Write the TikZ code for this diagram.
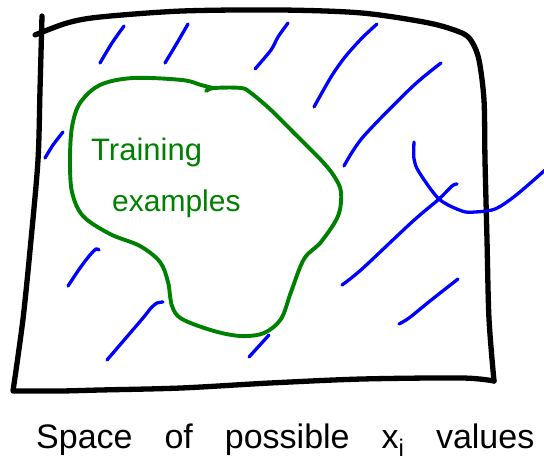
\documentclass[tikz,border=0pt]{standalone}
\usepackage{fontspec}
\setmainfont{Liberation Sans}
\definecolor{penblack}{RGB}{0,0,0}
\definecolor{pengreen}{RGB}{0,128,0}
\definecolor{penblue}{RGB}{0,0,255}
\tikzset{
  boxline/.style={draw=penblack, line width=5.3pt, line cap=round, line join=round},
  blobline/.style={draw=pengreen, line width=3.9pt, line cap=round, line join=round},
  hatch/.style={draw=penblue, line width=3.3pt, line cap=round, line join=round},
  greentext/.style={text=pengreen, inner sep=0pt, anchor=base west},
  labeltext/.style={text=penblack, inner sep=0pt, anchor=base west}
}
\begin{document}
\begin{tikzpicture}[x=1pt, y=-1pt]
\useasboundingbox (0,0) rectangle (544,475);
% box
\draw[boxline] plot[smooth, tension=0.5] coordinates {(42,16) (40,90) (38,160) (31,240) (23,319) (13,391)}
  -- plot[smooth, tension=0.5] coordinates {(13,391) (60,391) (100,390) (181,388) (270,383) (362,379) (462,378) (494,381)};
\draw[boxline] plot[smooth, tension=0.5] coordinates {(35,35) (67,23) (100,17) (182,11) (281,10) (362,13) (429,23) (462,33) (472,42) (479,60) (484,100) (485,160) (487,240) (489,319) (494,381)};
% training blob
\draw[blobline] plot[smooth, tension=0.55] coordinates {(206,91) (214,88) (241,88) (251,93) (271,110) (294,133) (321,160) (334,176) (341,192) (338,216) (321,242) (304,259) (291,292) (281,319) (264,333) (241,336) (214,331) (182,319) (172,306) (168,282) (160,262) (140,246) (110,234) (83,216) (72,192) (70,160) (72,127) (80,103) (100,85) (133,78) (182,80) (201,85) (213,88)};
% hatching
\draw[hatch] plot[smooth] coordinates {(100,63) (112,43) (124,26)};
\draw[hatch] plot[smooth] coordinates {(165,63) (177,43) (188,24)};
\draw[hatch] plot[smooth] coordinates {(255,69) (271,50) (278,37) (288,23)};
\draw[hatch] plot[smooth] coordinates {(314,107) (331,77) (345,57) (362,38) (377,24)};
\draw[hatch] plot[smooth] coordinates {(344,166) (363,137) (412,87) (441,63)};
\draw[hatch] plot[smooth] coordinates {(45,158) (53,145) (63,132)};
\draw[hatch] plot[smooth] coordinates {(68,286) (80,268) (90,255) (96,249) (99,250)};
\draw[hatch] plot[smooth] coordinates {(107,360) (125,339) (143,318) (151,308) (157,303) (163,302)};
\draw[hatch] plot[smooth] coordinates {(249,357) (259,346) (269,335)};
\draw[hatch] plot[smooth] coordinates {(342,285) (362,269) (412,222) (439,199) (452,186) (457,184)};
\draw[hatch] plot[smooth] coordinates {(399,324) (409,318) (430,301) (458,279)};
\draw[hatch] plot[smooth] coordinates {(414,142) (414,159) (419,172) (439,199) (462,211) (475,212) (495,209) (515,196) (544,171) (552,163)};
% texts
\node[greentext, font=\fontsize{31pt}{31pt}\selectfont] (training) at (91,160) {Training};
\node[greentext, font=\fontsize{30pt}{30pt}\selectfont] (examples) at (112,211) {examples};
\node[labeltext, font=\fontsize{34pt}{34pt}\selectfont] (caption) at (36,448)
  {\spaceskip=32pt Space of possible x{\fontsize{24pt}{24pt}\selectfont\raisebox{-8pt}{i}} values};
\end{tikzpicture}
\end{document}
